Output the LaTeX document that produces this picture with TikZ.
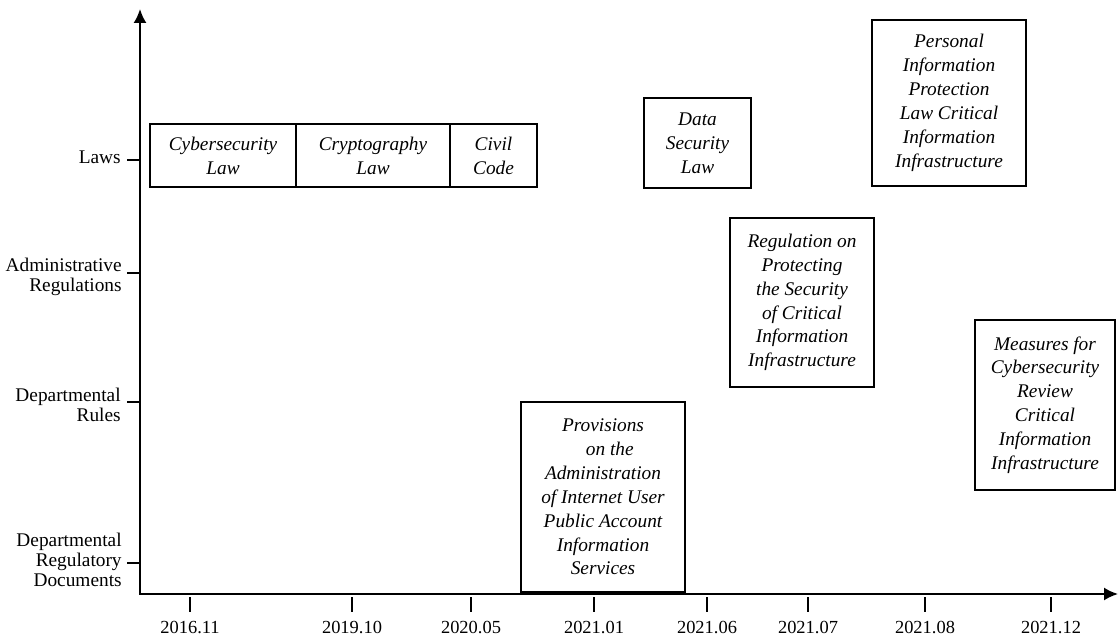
\documentclass[tikz,border=0pt]{standalone}
\usepackage{fontspec}
\setmainfont{Liberation Serif}
\usetikzlibrary{arrows.meta}

\begin{document}
\begin{tikzpicture}[x=0.02cm, y=-0.02cm,
    doc/.style={draw, line width=0.8pt, inner sep=0pt, align=center,
        font=\fontsize{11}{13.6}\selectfont\itshape},
    level/.style={anchor=east, inner sep=0pt, align=right,
        font=\fontsize{11}{11.5}\selectfont},
    date/.style={inner sep=0pt, font=\fontsize{10.5}{12}\selectfont},
    axis/.style={line width=1.1pt, {Latex[length=2.8mm,width=2.6mm]}-{Latex[length=2.8mm,width=2.6mm]}}]
    \useasboundingbox (0,0) rectangle (1118,635);

    % axes
    \coordinate (ytop) at (140,9);
    \coordinate (O) at (140,594);
    \coordinate (xend) at (1118,594);
    \draw[axis] (ytop) -- (O) -- (xend);

    % levels
    \foreach \y in {160,273,402,563}
        \draw[line width=0.8pt] (127,\y) -- (140,\y);
    \node[level] at (121,157) (laws) {Laws};
    \node[level] at (122,277) (admin) {Administrative\\Regulations};
    \node[level] at (121,405) (rules) {Departmental\\Rules};
    \node[level] at (122,560) (docs) {Departmental\\Regulatory\\Documents};

    % dates
    \foreach \x/\d in {190/2016.11, 352/2019.10, 471/2020.05, 594/2021.01,
                       707/2021.06, 808/2021.07, 925/2021.08, 1051/2021.12} {
        \draw[line width=0.8pt] (\x,597) -- (\x,612);
        \node[date] at (\x,627) (t\x) {\d};
    }

    % documents
    \node[doc, minimum width=146*0.02cm, minimum height=63*0.02cm] at (223,155.5) (cyber) {Cybersecurity\\Law};
    \node[doc, minimum width=154*0.02cm, minimum height=63*0.02cm] at (373,155.5) (crypto) {Cryptography\\Law};
    \node[doc, minimum width=87*0.02cm, minimum height=63*0.02cm] at (493.5,155.5) (civil) {Civil\\Code};
    \node[doc, minimum width=107*0.02cm, minimum height=90*0.02cm] at (697.5,143) (data) {Data\\Security\\Law};
    \node[doc, minimum width=154*0.02cm, minimum height=166*0.02cm] at (949,103) (pipl) {Personal\\Information\\Protection\\Law Critical\\Information\\Infrastructure};
    \node[doc, minimum width=144*0.02cm, minimum height=169*0.02cm] at (802,302.5) (cii) {Regulation on\\Protecting\\the Security\\of Critical\\Information\\Infrastructure};
    \node[doc, minimum width=140*0.02cm, minimum height=170*0.02cm] at (1045,405) (review) {Measures for\\Cybersecurity\\Review\\Critical\\Information\\Infrastructure};
    \node[doc, minimum width=164*0.02cm, minimum height=190*0.02cm] at (603,497) (account) {Provisions\\\hspace{0.7em}on the\\Administration\\of Internet User\\Public Account\\Information\\Services};
\end{tikzpicture}
\end{document}
